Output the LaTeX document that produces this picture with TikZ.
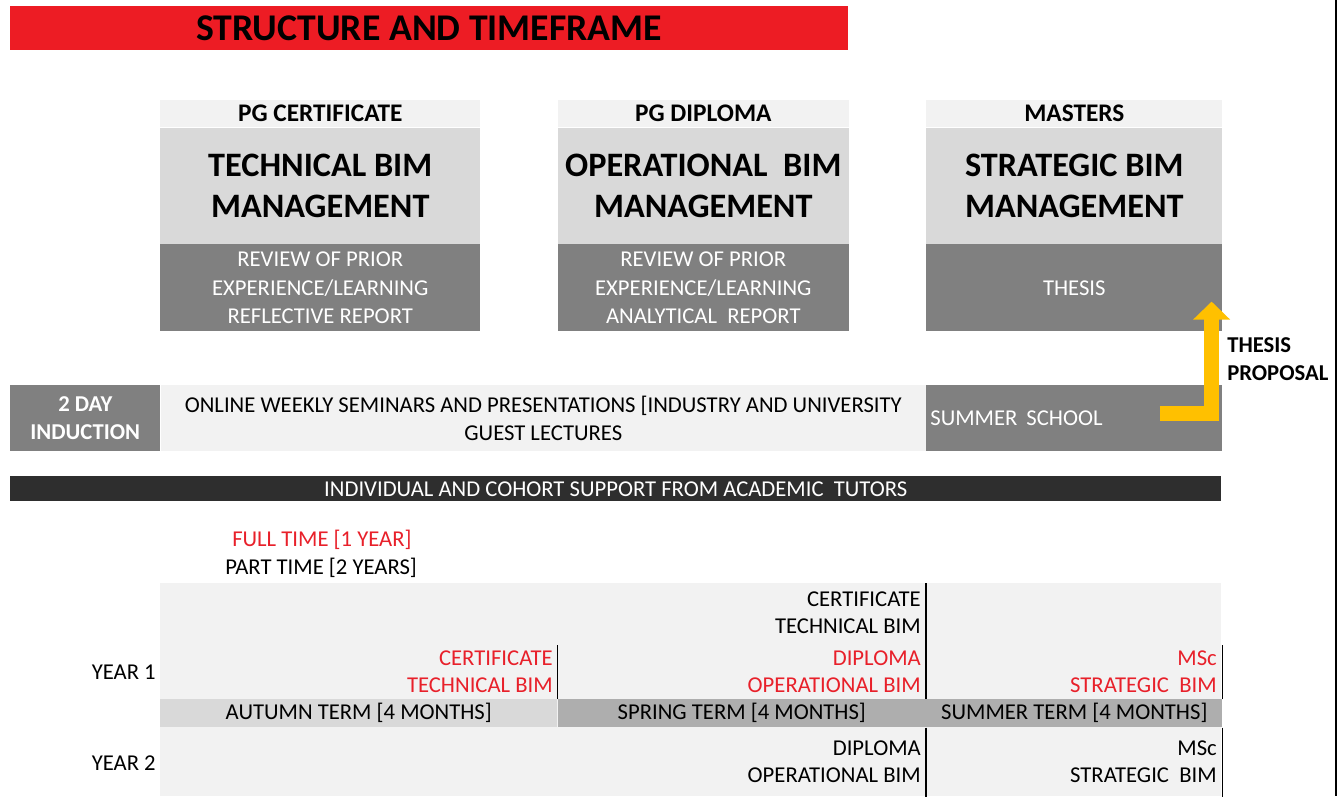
\documentclass[tikz,border=0pt]{standalone}
\usepackage{fontspec}
\setmainfont{Carlito}
\usetikzlibrary{arrows.meta,positioning}

\definecolor{titlered}{HTML}{ED1C24}
\definecolor{paleband}{HTML}{F2F2F2}
\definecolor{midband}{HTML}{D9D9D9}
\definecolor{darkband}{HTML}{808080}
\definecolor{supportbar}{HTML}{2E2E2E}
\definecolor{termdark}{HTML}{AEAEAE}
\definecolor{redtext}{HTML}{E8202A}
\definecolor{proposal}{HTML}{FFC000}

\begin{document}
\begin{tikzpicture}[
    x=0.75pt, y=-0.75pt,
    box/.style={rectangle, inner sep=0pt, align=center},
    body/.style={font=\fontsize{17}{20.5}\selectfont},
    boldbody/.style={font=\fontsize{17}{21}\selectfont\bfseries},
    headband/.style={box, fill=paleband, minimum height=20.25pt, font=\fontsize{19}{23}\selectfont\bfseries},
    coreband/.style={box, fill=midband, minimum height=87pt, font=\fontsize{25.7}{31}\selectfont\bfseries},
    subband/.style={box, fill=darkband, minimum height=65.25pt, text=white, font=\fontsize{17}{21.4}\selectfont},
    rowcell/.style={box, minimum height=49.5pt, body},
    termcell/.style={box, minimum height=21pt, body},
    note/.style={inner sep=0pt, body},
    divider/.style={draw=black, line width=1pt},
    proparrow/.style={draw=proposal, line width=11.25pt, line join=miter,
      -{Triangle[length=13.5pt, width=27pt]}},
  ]
  \useasboundingbox (0,0) rectangle (1341,796);

  % title
  \node[box, fill=titlered, minimum width=628.5pt, minimum height=33pt, anchor=north west,
    font=\fontsize{28.3}{32}\selectfont\bfseries] (title) at (10,6) {STRUCTURE AND TIMEFRAME};

  % the three awards
  \node[headband, minimum width=240pt, anchor=north west] (certHead) at (160,100) {PG CERTIFICATE};
  \node[coreband, minimum width=240pt, below=0pt of certHead] (certCore) {TECHNICAL BIM\\MANAGEMENT};
  \node[subband, minimum width=240pt, below=0pt of certCore] (certSub) {REVIEW OF PRIOR\\EXPERIENCE/LEARNING\\REFLECTIVE REPORT};

  \node[headband, minimum width=218.25pt, right=57.75pt of certHead] (dipHead) {PG DIPLOMA};
  \node[coreband, minimum width=218.25pt, below=0pt of dipHead] (dipCore) {OPERATIONAL\ \ BIM\\MANAGEMENT};
  \node[subband, minimum width=218.25pt, below=0pt of dipCore] (dipSub) {REVIEW OF PRIOR\\EXPERIENCE/LEARNING\\ANALYTICAL\ \ REPORT};

  \node[headband, minimum width=222pt, right=57.75pt of dipHead] (mscHead) {MASTERS};
  \node[coreband, minimum width=222pt, below=0pt of mscHead] (mscCore) {STRATEGIC BIM\\MANAGEMENT};
  \node[subband, minimum width=222pt, below=0pt of mscCore] (mscSub) {THESIS};

  % delivery row
  \node[rowcell, fill=darkband, text=white, boldbody, minimum width=112.5pt, anchor=north west] (induction) at (10,385) {2 DAY\\INDUCTION};
  \node[rowcell, fill=paleband, minimum width=573.75pt, right=0pt of induction] (online) {ONLINE WEEKLY SEMINARS AND PRESENTATIONS [INDUSTRY AND UNIVERSITY\\GUEST LECTURES};
  \node[rowcell, fill=darkband, text=white, inner xsep=3pt, text width=216pt, align=left, right=0pt of online] (summer) {SUMMER\hspace{0.4em}SCHOOL};

  \coordinate (propStart) at ([xshift=-47.25pt, yshift=3.4pt]summer.east);
  \coordinate (propTip) at ([xshift=-8.25pt, yshift=22.5pt]mscSub.south east);
  \draw[proparrow] (propStart) -| (propTip);
  \node[note, boldbody, align=left, anchor=west] (propLabel) at (1227,359) {THESIS\\PROPOSAL};

  \node[box, fill=supportbar, text=white, body, minimum width=908.25pt, minimum height=18.75pt, anchor=north west] (support) at (10,476) {INDIVIDUAL AND COHORT SUPPORT FROM ACADEMIC\ \ TUTORS};

  % timeframe
  \node[note, text=redtext, anchor=west] (fullTime) at (232,540) {FULL TIME [1 YEAR]};
  \node[note, anchor=west] (partTime) at (225,568) {PART TIME [2 YEARS]};

  \node[box, fill=paleband, minimum width=795.75pt, minimum height=159.75pt, anchor=north west] (timeline) at (160,583) {};
  \node[termcell, fill=midband, minimum width=297.75pt, anchor=north west] (autumn) at (160,699) {AUTUMN TERM [4 MONTHS]};
  \node[termcell, fill=termdark, minimum width=276pt, right=0pt of autumn] (spring) {SPRING TERM [4 MONTHS]};
  \node[termcell, fill=termdark, minimum width=222pt, right=0pt of spring] (summerTerm) {SUMMER TERM [4 MONTHS]};

  \draw[divider] (autumn.north east) -- ++(0,-54);
  \draw[divider] (spring.north east) -- (spring.north east |- timeline.north);
  \draw[divider] (spring.south east) -- (spring.south east |- timeline.south);
  \draw[divider] (summerTerm.north east) -- ++(0,-54);
  \draw[divider] (summerTerm.south east) -- (summerTerm.south east |- timeline.south);

  \node[note, anchor=east] (year1) at (156,672) {YEAR 1};
  \node[note, anchor=east] (year2) at (156,763) {YEAR 2};

  \node[note, text=redtext, align=right, anchor=east] (certFull) at (553,671.5) {CERTIFICATE\\TECHNICAL BIM};
  \node[note, align=right, anchor=east] (certPart) at (921,612.5) {CERTIFICATE\\TECHNICAL BIM};
  \node[note, text=redtext, align=right, anchor=east] (dipFull) at (921,671.5) {DIPLOMA\\OPERATIONAL BIM};
  \node[note, text=redtext, align=right, anchor=east] (mscFull) at (1217,672) {MSc\\STRATEGIC\ \ BIM};
  \node[note, align=right, anchor=east] (dipPart) at (921,761.5) {DIPLOMA\\OPERATIONAL BIM};
  \node[note, align=right, anchor=east] (mscPart) at (1217,762) {MSc\\STRATEGIC\ \ BIM};

  % page edge
  \draw[line width=1.5pt] (1336,0) -- (1336,796);
\end{tikzpicture}
\end{document}
